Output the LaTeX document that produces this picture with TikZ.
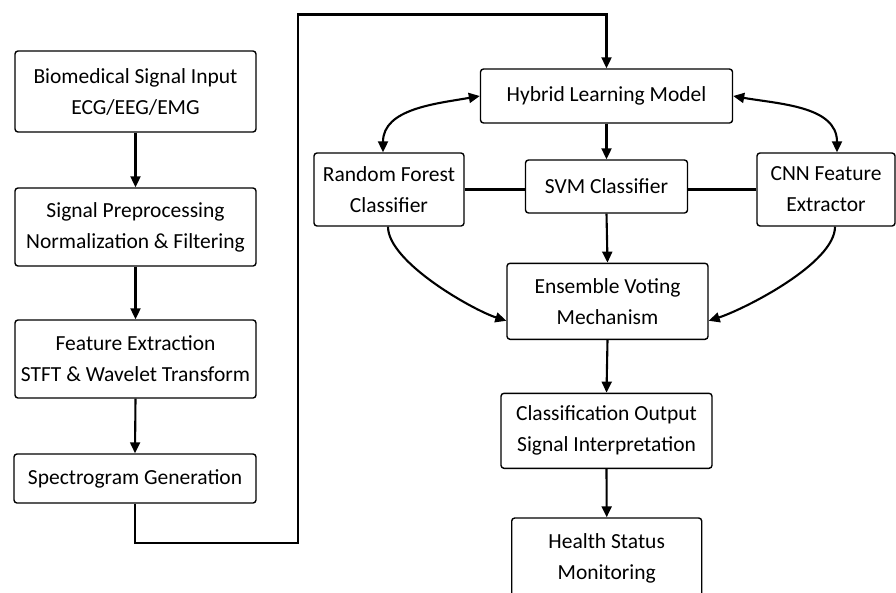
\documentclass[tikz,border=0pt]{standalone}
\usepackage{fontspec}
\setmainfont{Carlito}
\usetikzlibrary{arrows.meta}
\begin{document}
\begin{tikzpicture}[x=1pt,y=-1pt,
  box/.style={draw, line width=1.4pt, rounded corners=3pt, align=center, inner sep=0pt, font=\fontsize{21.5}{31}\selectfont},
  conn/.style={line width=2.1pt},
  arr/.style={conn, -{Triangle[length=11pt,width=10pt]}},
  darr/.style={conn, {Triangle[length=11pt,width=10pt]}-{Triangle[length=11pt,width=10pt]}}]
\useasboundingbox[fill=white] (0,0) rectangle (896,592);
% left column
\node[box, minimum width=241pt, minimum height=81pt] (bio) at (135.5,91.5) {Biomedical Signal Input\\ECG/EEG/EMG};
\node[box, minimum width=241pt, minimum height=78pt] (pre) at (135.5,227) {Signal Preprocessing\\Normalization \& Filtering};
\node[box, minimum width=241pt, minimum height=78pt] (fe) at (135.5,359) {Feature Extraction\\STFT \& Wavelet Transform};
\node[box, minimum width=242pt, minimum height=49pt] (spec) at (135,478.5) {Spectrogram Generation};
% right part
\node[box, minimum width=252pt, minimum height=54pt] (hyb) at (606.5,96) {Hybrid Learning Model};
\node[box, minimum width=150pt, minimum height=73pt] (rf) at (389,189.5) {Random Forest\\Classifier};
\node[box, minimum width=162pt, minimum height=53pt] (svm) at (606.5,186.5) {SVM Classifier};
\node[box, minimum width=138pt, minimum height=73pt] (cnn) at (826,189.5) {CNN Feature\\Extractor};
\node[box, minimum width=201pt, minimum height=76pt] (ens) at (607.5,301.3) {Ensemble Voting\\Mechanism};
\node[box, minimum width=211pt, minimum height=75pt] (cls) at (606.5,430.8) {Classification Output\\Signal Interpretation};
\node[box, minimum width=190pt, minimum height=80pt] (hlt) at (606.7,558) {Health Status\\Monitoring};
% left column arrows
\draw[arr] (bio.south) -- (pre.north);
\draw[arr] (pre.south) -- (fe.north);
\draw[arr] (fe.south) -- (spec.north);
% long connector
\coordinate (c1) at (135,543);
\coordinate (c2) at (298,543);
\coordinate (c3) at (298,14.5);
\draw[arr] (spec.south) -- (spec.south |- c1) -- (c2) -- (c3) -- (hyb.north |- c3) -- (hyb.north);
% hybrid connections
\draw[darr] ([xshift=-6pt]rf.north) to[out=90,in=190] (hyb.west);
\draw[darr] ([xshift=11pt]cnn.north) to[out=90,in=-10] (hyb.east);
\draw[arr] (hyb.south) -- (svm.north);
\draw[conn] (rf.east) -- (svm.west |- rf.east);
\draw[conn] (svm.east |- cnn.west) -- (cnn.west);
% to ensemble
\draw[arr] (svm.south) -- (ens.north);
\draw[arr] ([xshift=-1pt]rf.south) to[out=-90,in=162,looseness=0.6] ([yshift=-19.5pt]ens.west);
\draw[arr] ([xshift=9pt]cnn.south) to[out=-90,in=18,looseness=0.6] ([yshift=-19.5pt]ens.east);
\draw[arr] (ens.south) -- (cls.north);
\draw[arr] (cls.south) -- (hlt.north);
\end{tikzpicture}
\end{document}
